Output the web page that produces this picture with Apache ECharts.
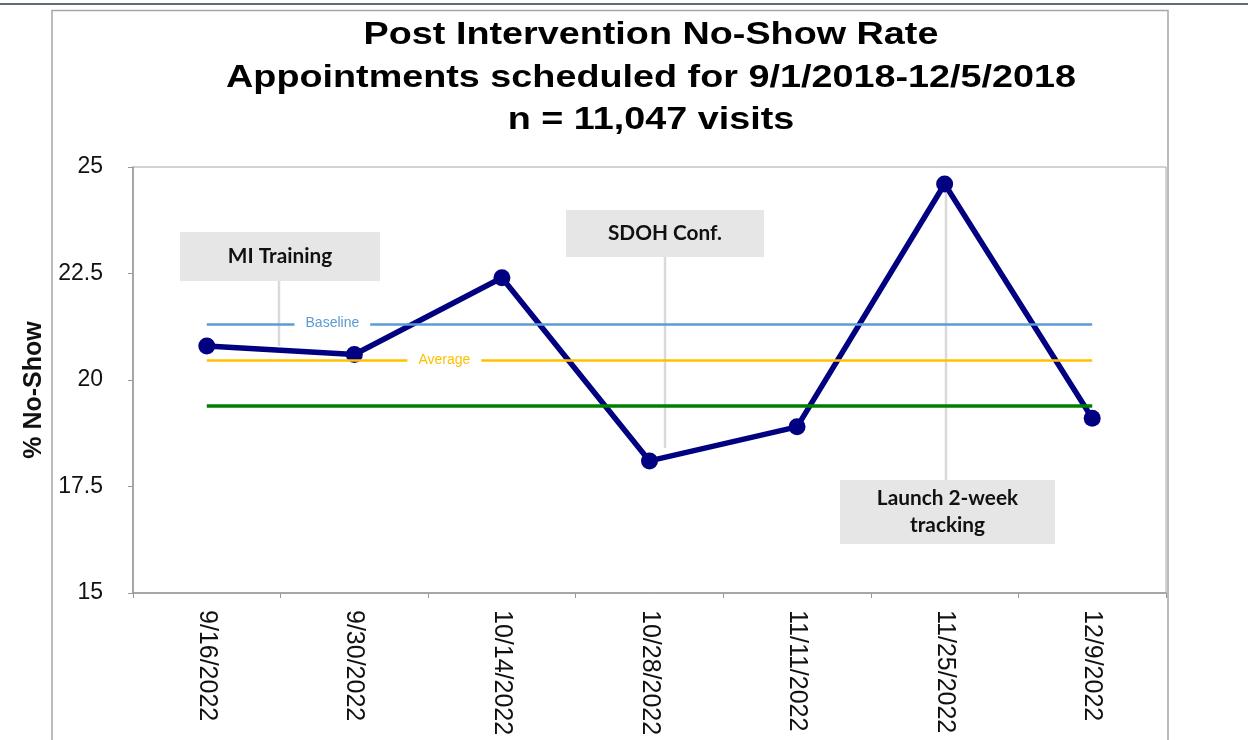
<!DOCTYPE html>
<html>
<head>
<meta charset="utf-8">
<script src="https://cdn.jsdelivr.net/npm/echarts@6/dist/echarts.min.js"></script>
<style>
html,body{margin:0;padding:0;background:#fff;}
#chart{width:1248px;height:740px;}
</style>
</head>
<body>
<div id="chart"></div>
<script>
// ---- data ----
const categories = ['9/16/2022','9/30/2022','10/14/2022','10/28/2022','11/11/2022','11/25/2022','12/9/2022'];
const noShowRate = [20.8, 20.6, 22.4, 18.1, 18.9, 24.6, 19.1];
const baselineValue = 21.3;
const averageValue = 20.47;
const targetValue = 19.4;
const yTicks = [15, 17.5, 20, 22.5, 25];
const titleLines = ['Post Intervention No-Show Rate', 'Appointments scheduled for 9/1/2018-12/5/2018', 'n = 11,047 visits'];
const yAxisName = '% No-Show';
const annotations = ['MI Training', 'SDOH Conf.', 'Launch 2-week\ntracking'];
const refLabels = ['Baseline', 'Average'];

const chart = echarts.init(document.getElementById('chart'));
const FONT = '"Liberation Sans", Arial, sans-serif';
const CALLOUT_FONT = 'Lato, "Open Sans", sans-serif';

function callout(text, x, y, w, h, lx, ly1, ly2) {
  return [
    { type: 'line', z: 1, shape: { x1: lx, y1: ly1, x2: lx, y2: ly2 }, style: { stroke: '#D9D9D9', lineWidth: 2.5 } },
    { type: 'rect', z: 5, shape: { x: x, y: y, width: w, height: h }, style: { fill: '#E6E6E6' } },
    { type: 'text', z: 6, x: x + w / 2, y: y + h / 2, scaleX: 1.04,
      style: { text: text, fill: '#111', font: 'bold 20px ' + CALLOUT_FONT, align: 'center', verticalAlign: 'middle', lineHeight: 27 } }
  ];
}

const option = {
  animation: false,
  backgroundColor: '#fff',
  grid: { left: 133, right: 82, top: 167, bottom: 147, show: true, borderColor: '#A6A6A6', borderWidth: 1, containLabel: false },
  xAxis: {
    type: 'category', data: categories, boundaryGap: true,
    axisLine: { lineStyle: { color: '#999', width: 1.5 } },
    axisTick: { show: true, length: 5, lineStyle: { color: '#999' } },
    axisLabel: { rotate: -90, fontSize: 25, fontFamily: FONT, color: '#111', margin: 17, interval: 0 },
    splitLine: { show: false }
  },
  yAxis: {
    type: 'value', min: 15, max: 25, interval: 2.5,
    axisLine: { show: true, lineStyle: { color: '#999', width: 1.5 } },
    axisTick: { show: true, length: 5, inside: false, lineStyle: { color: '#999' } },
    axisLabel: { fontSize: 23, fontFamily: FONT, color: '#111', margin: 30,
      formatter: v => (yTicks.indexOf(v) >= 0 ? String(v) : '') },
    splitLine: { show: false }
  },
  series: [
    {
      type: 'line', data: [], z: 3,
      markLine: {
        silent: true, symbol: 'none', label: { show: false },
        data: [
          [{ coord: [categories[0], baselineValue], lineStyle: { color: '#5B9BD5', width: 2.5, type: 'solid' } }, { coord: [categories[6], baselineValue] }],
          [{ coord: [categories[0], averageValue], lineStyle: { color: '#FFC000', width: 2.5, type: 'solid' } }, { coord: [categories[6], averageValue] }],
          [{ coord: [categories[0], targetValue], lineStyle: { color: '#008000', width: 3.5, type: 'solid' } }, { coord: [categories[6], targetValue] }]
        ]
      },
      markPoint: {
        silent: true, symbol: 'rect', symbolSize: 0,
        data: [
          { coord: [categories[1], baselineValue], label: { show: true, formatter: refLabels[0], offset: [-22, -1], color: '#5B9BD5', fontSize: 14, fontFamily: FONT, backgroundColor: '#fff', padding: [2, 11] } },
          { coord: [categories[1], averageValue], label: { show: true, formatter: refLabels[1], offset: [90, 0], color: '#FFC000', fontSize: 14, fontFamily: FONT, backgroundColor: '#fff', padding: [2, 11] } }
        ]
      }
    },
    {
      type: 'line', data: noShowRate, z: 4,
      symbol: 'circle', symbolSize: 17,
      lineStyle: { color: '#000080', width: 5.5 },
      itemStyle: { color: '#000080' }
    }
  ],
  graphic: [
    { type: 'line', z: 0, shape: { x1: 0, y1: 4, x2: 1248, y2: 4 }, style: { stroke: '#5F6B78', lineWidth: 2 } },
    { type: 'polyline', z: 0, shape: { points: [[52, 740], [52, 10.5], [1168, 10.5], [1168, 740]] }, style: { stroke: '#A6A6A6', lineWidth: 1.5, fill: null } },
    { type: 'text', z: 10, x: 651, y: 14, scaleX: 1.18,
      style: { text: titleLines.join('\n'), fill: '#000', font: 'bold 32px ' + FONT, align: 'center', verticalAlign: 'top', lineHeight: 42.5 } },
    { type: 'text', z: 10, x: 34, y: 390, rotation: Math.PI / 2,
      style: { text: yAxisName, fill: '#111', font: 'bold 25px ' + FONT, align: 'center', verticalAlign: 'middle' } },
    ...callout(annotations[0], 180, 232, 200, 49, 279, 281, 346),
    ...callout(annotations[1], 566, 210, 198, 47, 665, 257, 448),
    ...callout(annotations[2], 840, 480, 215, 64, 946, 190, 480)
  ]
};
chart.setOption(option);
</script>
</body>
</html>
